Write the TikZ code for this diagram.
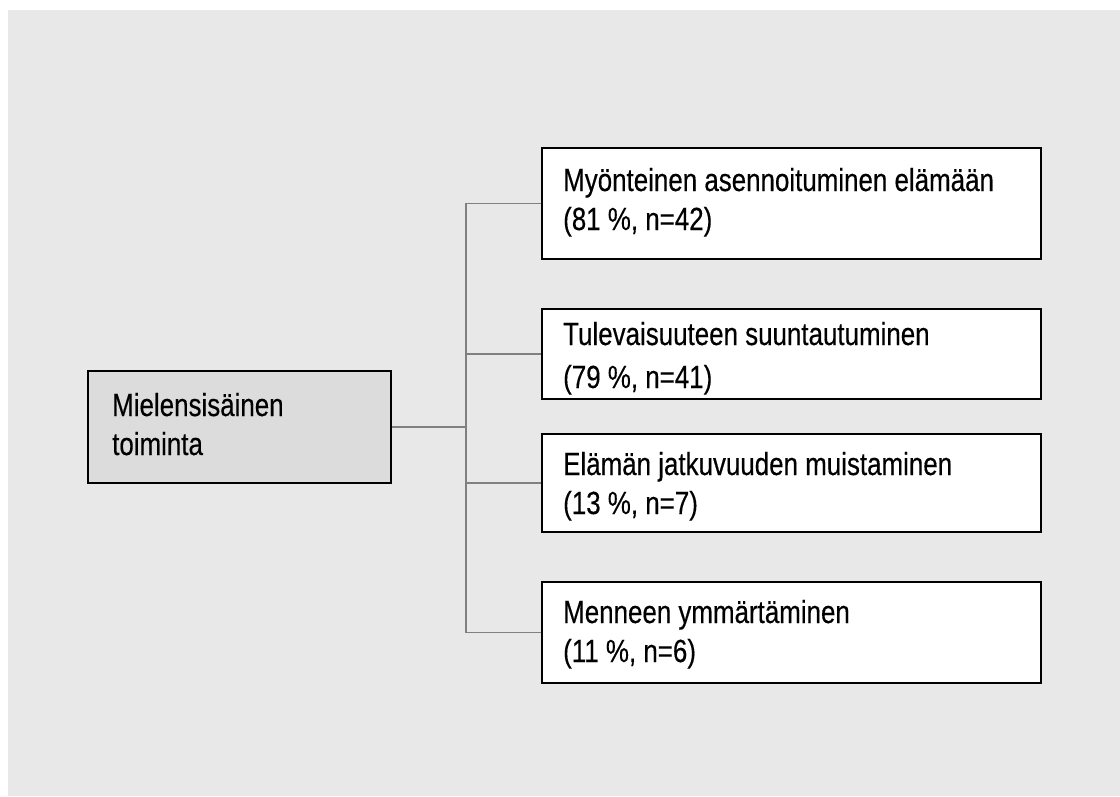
\documentclass[tikz,border=0pt]{standalone}
\usepackage{fontspec}
\setmainfont{Liberation Sans}[FakeStretch=0.81,FakeBold=0.35]
\definecolor{panelgray}{HTML}{E8E8E8}
\definecolor{rootgray}{HTML}{DCDCDC}
\definecolor{linkgray}{HTML}{808080}
% two lines of text, the first line giving the baseline
\newcommand{\boxlines}[2]{\begin{tabular}[t]{@{}l@{}}#1\\#2\end{tabular}}
\begin{document}
\begin{tikzpicture}[x=1pt,y=-1pt,
  rootbox/.style={draw=black, line width=2pt, fill=rootgray, inner sep=0pt,
    minimum width=303pt, minimum height=112pt},
  stagebox/.style={draw=black, line width=2pt, fill=white, inner sep=0pt,
    minimum width=499pt},
  boxtext/.style={anchor=base west, inner sep=0pt, text=black,
    font=\fontsize{32}{39}\selectfont},
  link/.style={draw=linkgray, line width=1.6pt, line join=miter}]
\useasboundingbox (0,0) rectangle (1120,796);
\fill[white] (0,0) rectangle (1120,796);
\fill[panelgray] (8,10) rectangle (1120,796);

% boxes
\node[rootbox] (root) at (239.5,427) {};
\node[stagebox, minimum height=111pt] (s1) at (791.5,203.5) {};
\node[stagebox, minimum height=90pt]  (s2) at (791.5,354) {};
\node[stagebox, minimum height=98pt]  (s3) at (791.5,483) {};
\node[stagebox, minimum height=101pt] (s4) at (791.5,632.5) {};

% connectors
\coordinate (trunk) at (466,427);
\draw[link] (root.east) -- (trunk);
\draw[link] (s1.west) -- (trunk |- s1.west) -- (trunk |- s4.west) -- (s4.west);
\draw[link] (trunk |- s2.west) -- (s2.west);
\draw[link] (trunk |- s3.west) -- (s3.west);

% texts
\node[boxtext] (t0) at (112,416) {\boxlines{Mielensisäinen}{toiminta}};
\node[boxtext] (t1) at (563,191) {\boxlines{Myönteinen asennoituminen elämään}{(81 \%, n=42)}};
\begin{scope}
  \clip (s2.south west) rectangle (s2.north east);
  \node[boxtext, font=\fontsize{32}{43}\selectfont] (t2) at (563,345)
    {\boxlines{Tulevaisuuteen suuntautuminen}{(79 \%, n=41)}};
\end{scope}
\node[boxtext] (t3) at (563,475) {\boxlines{Elämän jatkuvuuden muistaminen}{(13 \%, n=7)}};
\node[boxtext] (t4) at (563,623) {\boxlines{Menneen ymmärtäminen}{(11 \%, n=6)}};
\end{tikzpicture}
\end{document}
